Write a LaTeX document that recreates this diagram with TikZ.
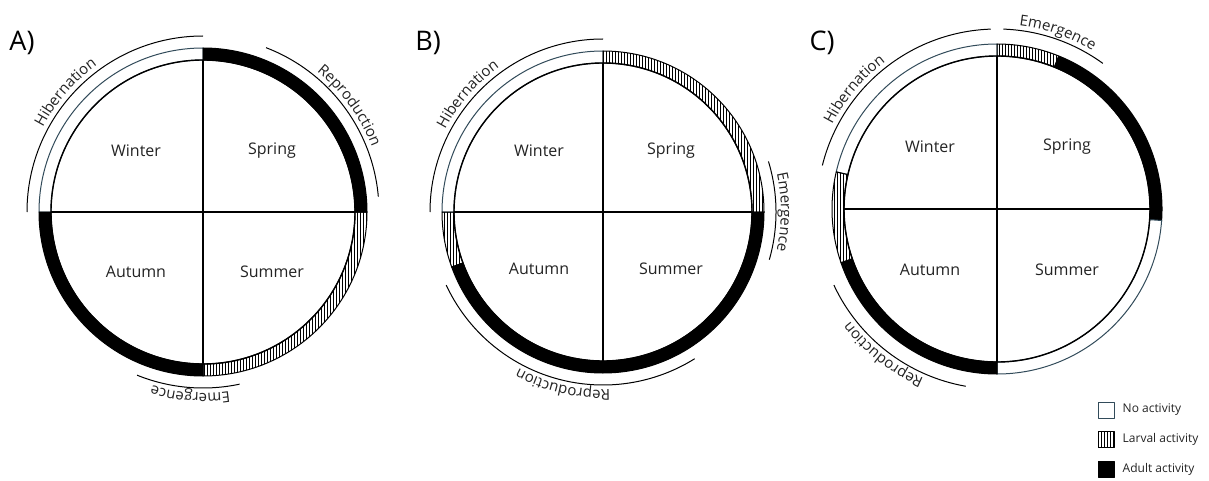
\documentclass[tikz,border=0pt]{standalone}
\usepackage{fontspec}
\setmainfont{Open Sans}
\usetikzlibrary{patterns,decorations.text,positioning}
\definecolor{rimcol}{RGB}{50,75,90}
\definecolor{txtcol}{RGB}{35,35,35}
\tikzset{
  noact/.style={fill=white,draw=rimcol,line width=1pt},
  larval/.style={pattern=vertical lines,draw=black,line width=1pt},
  adult/.style={fill=black,draw=black,line width=1pt},
  season/.style={font=\fontsize{16}{19}\selectfont,text=txtcol},
  panel/.style={font=\fontsize{27}{32}\selectfont},
  phasearc/.style={line width=1pt},
  keybox/.style={minimum size=16pt,inner sep=0pt,line width=1pt},
  keytext/.style={font=\fontsize{12}{14}\selectfont,text=txtcol,inner sep=0pt}
}
% one sector of the ring
\newcommand{\ringsec}[4]{\path[#4] (#1) ++({#2}:\ri) arc[start angle=#2,end angle=#3,radius=\ri] -- ++({#3}:{\ro-\ri}) arc[start angle=#3,end angle=#2,radius=\ro] -- cycle;}
% phase arc with its label set outside it
\newcommand{\phaselabel}[5]{\draw[phasearc] (#1) ++({#2}:\ra) arc[start angle=#2,end angle=#3,radius=\ra];
  \path[decorate,decoration={text along path,text align=center,text color=txtcol,text={|\fontsize{15}{15}\selectfont|#5}}] (#1) ++({#4+50}:{\ra+5}) arc[start angle=#4+50,end angle=#4-50,radius=\ra+5];}
\begin{document}
\begin{tikzpicture}[x=1pt,y=1pt,line join=round]
\useasboundingbox (0,0) rectangle (1209,480);
% A)
\coordinate (cA) at (203,268);
\def\ri{152} \def\ro{164} \def\ra{176}
\ringsec{cA}{90}{180}{noact}
\ringsec{cA}{90}{0}{adult}
\ringsec{cA}{0}{-90}{larval}
\ringsec{cA}{180}{270}{adult}
\draw[line width=1.4pt] (cA) circle[radius=\ri];
\draw[line width=1.2pt] (cA) ++({-\ri},0) -- ++({2*\ri},0) (cA) ++(0,{\ri}) -- ++(0,{-2*\ri});
\node[season] (winA) at ([shift={(-67,61)}]cA) {Winter};
\node[season] (sprA) at ([shift={(69,61)}]cA) {Spring};
\node[season] (autA) at ([shift={(-67,-60)}]cA) {Autumn};
\node[season] (sumA) at ([shift={(69,-60)}]cA) {Summer};
\phaselabel{cA}{90}{180}{139}{Hibernation}
\phaselabel{cA}{5}{69}{36}{Reproduction}
\phaselabel{cA}{248}{282}{266}{Emergence}
\node[panel] (labA) at (22,437) {A)};
% B)
\coordinate (cB) at (603,268);
\def\ri{149} \def\ro{161} \def\ra{173}
\ringsec{cB}{90}{180}{noact}
\ringsec{cB}{0}{90}{larval}
\ringsec{cB}{180}{200}{larval}
\ringsec{cB}{200}{360}{adult}
\draw[line width=1.4pt] (cB) circle[radius=\ri];
\draw[line width=1.2pt] (cB) ++({-\ri},0) -- ++({2*\ri},0) (cB) ++(0,{\ri}) -- ++(0,{-2*\ri});
\node[season] (winB) at ([shift={(-64,61)}]cB) {Winter};
\node[season] (sprB) at ([shift={(68,61)}]cB) {Spring};
\node[season] (autB) at ([shift={(-64,-57)}]cB) {Autumn};
\node[season] (sumB) at ([shift={(68,-57)}]cB) {Summer};
\phaselabel{cB}{90}{180}{139}{Hibernation}
\phaselabel{cB}{-16}{17}{0}{Emergence}
\phaselabel{cB}{205}{302}{257}{Reproduction}
\node[panel] (labB) at (428,437) {B)};
% C)
\coordinate (cC) at (997,271);
\def\ri{153} \def\ro{165} \def\ra{180}
\ringsec{cC}{90}{167}{noact}
\ringsec{cC}{68}{90}{larval}
\ringsec{cC}{-4}{68}{adult}
\ringsec{cC}{-90}{-4}{noact}
\ringsec{cC}{199}{270}{adult}
\ringsec{cC}{167}{199}{larval}
\draw[line width=1.4pt] (cC) circle[radius=\ri];
\draw[line width=1.2pt] (cC) ++({-\ri},0) -- ++({2*\ri},0) (cC) ++(0,{\ri}) -- ++(0,{-2*\ri});
\node[season] (winC) at ([shift={(-67,62)}]cC) {Winter};
\node[season] (sprC) at ([shift={(70,62)}]cC) {Spring};
\node[season] (autC) at ([shift={(-67,-61)}]cC) {Autumn};
\node[season] (sumC) at ([shift={(70,-61)}]cC) {Summer};
\phaselabel{cC}{92}{166}{140}{Hibernation}
\phaselabel{cC}{54}{88}{71}{Emergence}
\phaselabel{cC}{205}{260}{232}{Reproduction}
\node[panel] (labC) at (822,437) {C)};
% legend
\node[keybox,draw=rimcol,fill=white] (kNo) at (1106,70) {};
\node[keybox,draw=black,pattern=vertical lines,below=12.5pt of kNo] (kLar) {};
\node[keybox,draw=black,fill=black,below=12.5pt of kLar] (kAd) {};
\node[keytext,right=8pt of kNo] (tNo) {No activity};
\node[keytext,right=8pt of kLar] (tLar) {Larval activity};
\node[keytext,right=8pt of kAd] (tAd) {Adult activity};
\end{tikzpicture}
\end{document}
